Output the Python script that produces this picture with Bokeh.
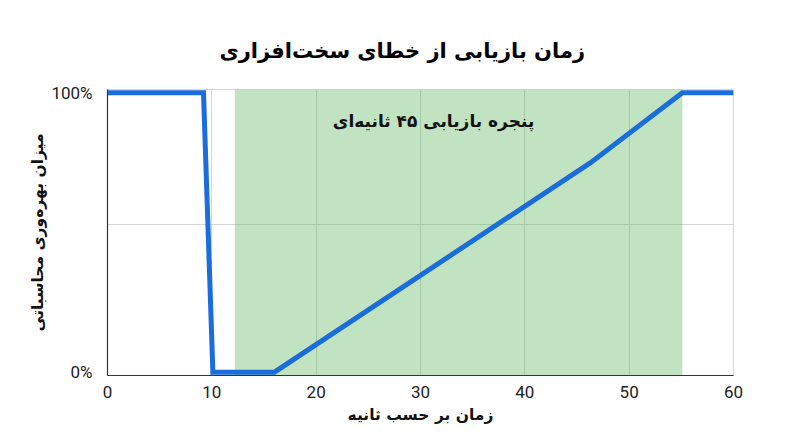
from bokeh.plotting import figure
from bokeh.models import Range1d, FixedTicker, NumeralTickFormatter, BoxAnnotation, Label
from bokeh.embed import file_html
from bokeh.resources import INLINE

# Data
time_s = [0, 9.2, 10.1, 16, 46.3, 55.1, 60]
productivity = [1.0, 1.0, 0.0, 0.0, 0.75, 1.0, 1.0]
window = [12.2, 55.1]
x_ticks = [0, 10, 20, 30, 40, 50, 60]
y_ticks = [0, 1]

title_text = "زمان بازیابی از خطای سخت\u200cافزاری"
y_label = "میزان بهره\u200cوری محاسباتی"
x_label = "زمان بر حسب ثانیه"
window_label = "پنجره بازیابی ۴۵ ثانیه\u200cای"

FA_FONT = "DejaVu Sans"

p = figure(width=784, height=431, output_backend="svg", toolbar_location=None,
           x_range=Range1d(0, 60), y_range=Range1d(-0.012, 1.012),
           min_border_left=107, min_border_right=51, min_border_top=89, min_border_bottom=56)

p.title.text = title_text
p.title.align = "left"
p.title.offset = 112
p.title.standoff = 54
p.title.text_font = FA_FONT
p.title.text_font_size = "21px"
p.title.text_font_style = "bold"
p.title.text_color = "#000000"

p.add_layout(BoxAnnotation(left=window[0], right=window[1], fill_color="#4caf50",
                           fill_alpha=0.35, line_color=None, level="underlay"))

p.line(time_s, productivity, line_color="#1a6ddb", line_width=5, line_join="miter")

p.add_layout(Label(x=31.25, y=0.9, text=window_label,
                   text_align="center", text_baseline="middle", text_font=FA_FONT,
                   text_font_size="17px", text_font_style="bold", text_color="#111111"))

p.xaxis.ticker = FixedTicker(ticks=x_ticks)
p.yaxis.ticker = FixedTicker(ticks=y_ticks)
p.yaxis.formatter = NumeralTickFormatter(format="0%")
p.xgrid.ticker = FixedTicker(ticks=x_ticks)
p.ygrid.ticker = FixedTicker(ticks=[0.53])
p.grid.grid_line_color = "#d6d6d6"
p.grid.grid_line_width = 1

for ax in (p.xaxis, p.yaxis):
    ax.axis_line_color = "#333333"
    ax.axis_line_width = 1.2
    ax.major_tick_line_color = None
    ax.minor_tick_line_color = None
    ax.major_label_text_font = "Roboto"
    ax.major_label_text_font_size = "17px"
    ax.major_label_text_color = "#222222"
    ax.axis_label_text_font = FA_FONT
    ax.axis_label_text_font_size = "15.5px"
    ax.axis_label_text_font_style = "bold"
    ax.axis_label_text_color = "#111111"

p.xaxis.axis_label = x_label
p.yaxis.axis_label = y_label
p.xaxis.major_label_standoff = 4
p.yaxis.major_label_standoff = 9
p.xaxis.axis_label_standoff = 5
p.yaxis.axis_label_standoff = 1

p.outline_line_color = "#d6d6d6"
p.outline_line_width = 1
p.background_fill_color = "white"
p.border_fill_color = "white"

open("out.html", "w").write(file_html(p, INLINE))
